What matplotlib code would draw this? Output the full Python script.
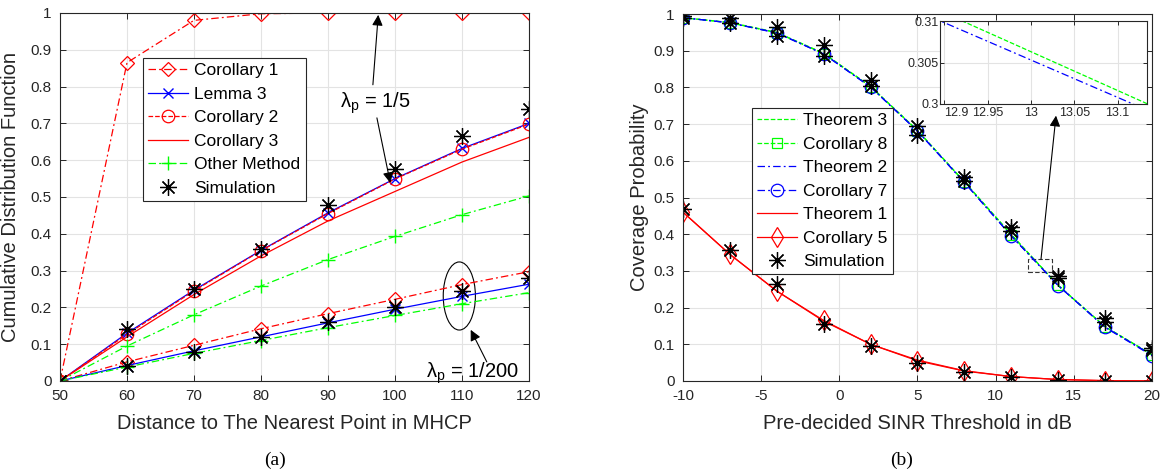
import numpy as np
import matplotlib
matplotlib.use('Agg')
import matplotlib.pyplot as plt
from matplotlib.patches import Ellipse, Rectangle

plt.rcParams['font.family'] = ['Liberation Sans', 'DejaVu Sans']
plt.rcParams['mathtext.fontset'] = 'custom'
plt.rcParams['mathtext.rm'] = 'Liberation Sans'
plt.rcParams['mathtext.it'] = 'Liberation Sans'
plt.rcParams['axes.unicode_minus'] = False

# ---- data (a)
dist = [50, 60, 70, 80, 90, 100, 110, 120]
cor1_hi = [0, 0.865, 0.98, 0.998, 1.0, 1.0, 1.0, 1.0]
lem3_hi = [0, 0.13, 0.247, 0.355, 0.457, 0.55, 0.632, 0.70]
cor2_hi = [0, 0.127, 0.245, 0.354, 0.455, 0.549, 0.63, 0.698]
cor3_hi = [0, 0.12, 0.235, 0.34, 0.435, 0.515, 0.595, 0.662]
oth_hi = [0, 0.095, 0.18, 0.258, 0.33, 0.393, 0.452, 0.503]
sim_hi = [0, 0.14, 0.25, 0.36, 0.478, 0.575, 0.667, 0.74]

cor1_lo = [0, 0.052, 0.097, 0.142, 0.183, 0.222, 0.262, 0.297]
lem3_lo = [0, 0.042, 0.082, 0.12, 0.158, 0.195, 0.23, 0.263]
oth_lo = [0, 0.038, 0.075, 0.11, 0.145, 0.178, 0.21, 0.24]
sim_lo = [0, 0.04, 0.08, 0.12, 0.16, 0.2, 0.245, 0.28]

# ---- data (b)
sinr = [-10, -7, -4, -1, 2, 5, 8, 11, 14, 17, 20]
thm3 = [0.99, 0.977, 0.95, 0.893, 0.803, 0.683, 0.543, 0.3997, 0.2596, 0.148, 0.072]
cor8 = [0.99, 0.976, 0.949, 0.892, 0.802, 0.682, 0.542, 0.398, 0.261, 0.148, 0.071]
thm2 = [0.99, 0.976, 0.949, 0.891, 0.801, 0.681, 0.541, 0.3953, 0.2603, 0.147, 0.071]
cor7 = [0.99, 0.976, 0.948, 0.891, 0.801, 0.681, 0.541, 0.395, 0.26, 0.146, 0.069]
thm1 = [0.46, 0.345, 0.245, 0.163, 0.10, 0.057, 0.028, 0.012, 0.004, 0.001, 0.0003]
cor5 = [0.46, 0.345, 0.245, 0.165, 0.10, 0.055, 0.027, 0.012, 0.004, 0.001, 0.0003]
sim_a = [0.995, 0.99, 0.965, 0.915, 0.82, 0.695, 0.557, 0.42, 0.287, 0.172, 0.09]
sim_b = [0.99, 0.975, 0.94, 0.885, 0.805, 0.67, 0.545, 0.41, 0.28, 0.162, 0.085]
sim_c = [0.47, 0.357, 0.265, 0.155, 0.095, 0.05, 0.025, 0.01, 0.002, 0.0005, 0.0]

RED, BLUE, GREEN = '#ff0000', '#0000ff', '#00ff00'
AST = (8, 2, 0)
DD = (0, (6, 2.5, 1.5, 2.5))
lw = 0.9
FS = 14.5   # axis labels
LFS = 12.5  # legend

fig = plt.figure(figsize=(11.6, 4.71), dpi=100)
ax1 = fig.add_axes([60/1160, 1-381/471, 469/1160, 368/471])
ax2 = fig.add_axes([683/1160, 1-381/471, 469/1160, 367/471])


def style(ax):
    ax.grid(True, color='#e3e3e3', lw=0.8)
    ax.set_axisbelow(True)
    ax.tick_params(direction='in', top=True, right=True, length=4,
                   labelsize=11, colors='#262626', width=0.7, pad=6)
    for s in ax.spines.values():
        s.set_color('#262626')
        s.set_linewidth(0.8)


def legend(ax, x, y):
    lg = ax.legend(loc='upper left', bbox_to_anchor=(x/1160, 1-y/471),
                   bbox_transform=fig.transFigure, borderaxespad=0, fontsize=LFS,
                   fancybox=False, edgecolor='#262626', framealpha=1,
                   handlelength=2.3, handletextpad=0.35, labelspacing=0.48,
                   borderpad=0.3)
    lg.get_frame().set_linewidth(0.8)
    return lg


# ---------------- (a)
ax1.plot(dist, cor1_hi, ls=DD, color=RED, lw=lw, marker='D', mfc='none', ms=7.5,
         mew=0.9, label='Corollary 1')
ax1.plot(dist, lem3_hi, '-', color=BLUE, lw=lw, marker='x', ms=7, label='Lemma 3')
ax1.plot(dist, cor2_hi, '--', color=RED, lw=lw, marker='o', mfc='none', ms=9, mew=0.9,
         label='Corollary 2')
ax1.plot(dist, cor3_hi, '-', color=RED, lw=lw, label='Corollary 3')
ax1.plot(dist, oth_hi, ls=DD, color=GREEN, lw=lw, marker='+', ms=10, label='Other Method')
ax1.plot(dist, sim_hi, ls='none', color='k', marker=AST, ms=12, mew=0.9, label='Simulation')

ax1.plot(dist, cor1_lo, ls=DD, color=RED, lw=lw, marker='D', mfc='none', ms=7.5, mew=0.9)
ax1.plot(dist, lem3_lo, '-', color=BLUE, lw=lw, marker='x', ms=7)
ax1.plot(dist, oth_lo, ls=DD, color=GREEN, lw=lw, marker='+', ms=10)
ax1.plot(dist, sim_lo, ls='none', color='k', marker=AST, ms=12, mew=0.9)

ax1.set_xlim(50, 120)
ax1.set_ylim(0, 1)
ax1.set_xticks(np.arange(50, 121, 10))
ax1.set_yticks(np.arange(0, 1.01, 0.1))
ax1.set_yticklabels(['0', '0.1', '0.2', '0.3', '0.4', '0.5', '0.6', '0.7', '0.8', '0.9', '1'])
style(ax1)
ax1.set_xlabel('Distance to The Nearest Point in MHCP', fontsize=FS, color='#262626')
ax1.set_ylabel('Cumulative Distribution Function', fontsize=FS, color='#262626')
ax1.xaxis.set_label_coords(0.5, -0.09)
ax1.yaxis.set_label_coords(-0.085, 0.5)
legend(ax1, 143, 58)

arr = dict(arrowstyle='-|>', color='k', lw=0.8, mutation_scale=16,
           shrinkA=0, shrinkB=0)
ax1.annotate('', xy=(97.5, 0.995), xytext=(96.7, 0.805), arrowprops=arr)
ax1.annotate('', xy=(99.3, 0.538), xytext=(97.3, 0.715), arrowprops=arr)
ax1.text(97.0, 0.755, r'$\lambda_{p}$ = 1/5', fontsize=FS, ha='center', va='center')
ax1.add_patch(Ellipse((109.6, 0.231), 4.8, 0.185, fill=False, ec='k', lw=0.8))
ax1.annotate('', xy=(111.3, 0.139), xytext=(113.7, 0.052), arrowprops=arr)
ax1.text(111.5, 0.022, r'$\lambda_{p}$ = 1/200', fontsize=FS, ha='center', va='center')

# ---------------- (b)
ax2.plot(sinr, thm3, '--', color=GREEN, lw=lw, label='Theorem 3')
ax2.plot(sinr, cor8, '--', color=GREEN, lw=lw, marker='s', mfc='none', ms=7, mew=0.9,
         label='Corollary 8')
ax2.plot(sinr, thm2, ls=DD, color=BLUE, lw=lw, label='Theorem 2')
ax2.plot(sinr, cor7, ls=DD, color=BLUE, lw=lw, marker='o', mfc='none', ms=9, mew=0.9,
         label='Corollary 7')
ax2.plot(sinr, thm1, '-', color=RED, lw=lw, label='Theorem 1')
ax2.plot(sinr, cor5, '-', color=RED, lw=lw, marker='d', mfc='none', ms=10.5, mew=0.9,
         label='Corollary 5')
ax2.plot(sinr, sim_a, ls='none', color='k', marker=AST, ms=12, mew=0.9, label='Simulation')
ax2.plot(sinr, sim_b, ls='none', color='k', marker=AST, ms=12, mew=0.9)
ax2.plot(sinr, sim_c, ls='none', color='k', marker=AST, ms=12, mew=0.9)

ax2.set_xlim(-10, 20)
ax2.set_ylim(0, 1)
ax2.set_xticks(np.arange(-10, 21, 5))
ax2.set_yticks(np.arange(0, 1.01, 0.1))
ax2.set_yticklabels(['0', '0.1', '0.2', '0.3', '0.4', '0.5', '0.6', '0.7', '0.8', '0.9', '1'])
style(ax2)
ax2.set_xlabel('Pre-decided SINR Threshold in dB', fontsize=FS, color='#262626')
ax2.set_ylabel('Coverage Probability', fontsize=FS, color='#262626')
ax2.xaxis.set_label_coords(0.5, -0.09)
ax2.yaxis.set_label_coords(-0.072, 0.5)
legend(ax2, 752, 108)

ax2.add_patch(Rectangle((12.07, 0.296), 1.53, 0.0355, fill=False, ec='#333333',
                        lw=0.8, ls=(0, (4, 2))))
ax2.annotate('', xy=(13.86, 0.723), xytext=(12.9, 0.332), arrowprops=arr)

# inset
axi = fig.add_axes([940/1160, 1-104/471, 207/1160, 83/471])
axi.plot(sinr, thm3, '--', color=GREEN, lw=lw)
axi.plot(sinr, thm2, ls=DD, color=BLUE, lw=lw)
axi.set_xlim(12.895, 13.134)
axi.set_ylim(0.3, 0.31)
axi.set_xticks([12.9, 12.95, 13.0, 13.05, 13.1])
axi.set_xticklabels(['12.9', '12.95', '13', '13.05', '13.1'])
axi.set_yticks([0.3, 0.305, 0.31])
axi.set_yticklabels(['0.3', '0.305', '0.31'])
style(axi)
axi.tick_params(labelsize=9, pad=2, length=3)
axi.tick_params(axis='y', pad=1)
axi.get_xticklabels()[0].set_horizontalalignment('left')
axi.set_facecolor('white')

fig.text(275/1160, 1-460/471, '(a)', family=['Liberation Serif'], fontsize=14,
         ha='center', va='center')
fig.text(902/1160, 1-460/471, '(b)', family=['Liberation Serif'], fontsize=14,
         ha='center', va='center')

fig.savefig('out.png', dpi=100)
